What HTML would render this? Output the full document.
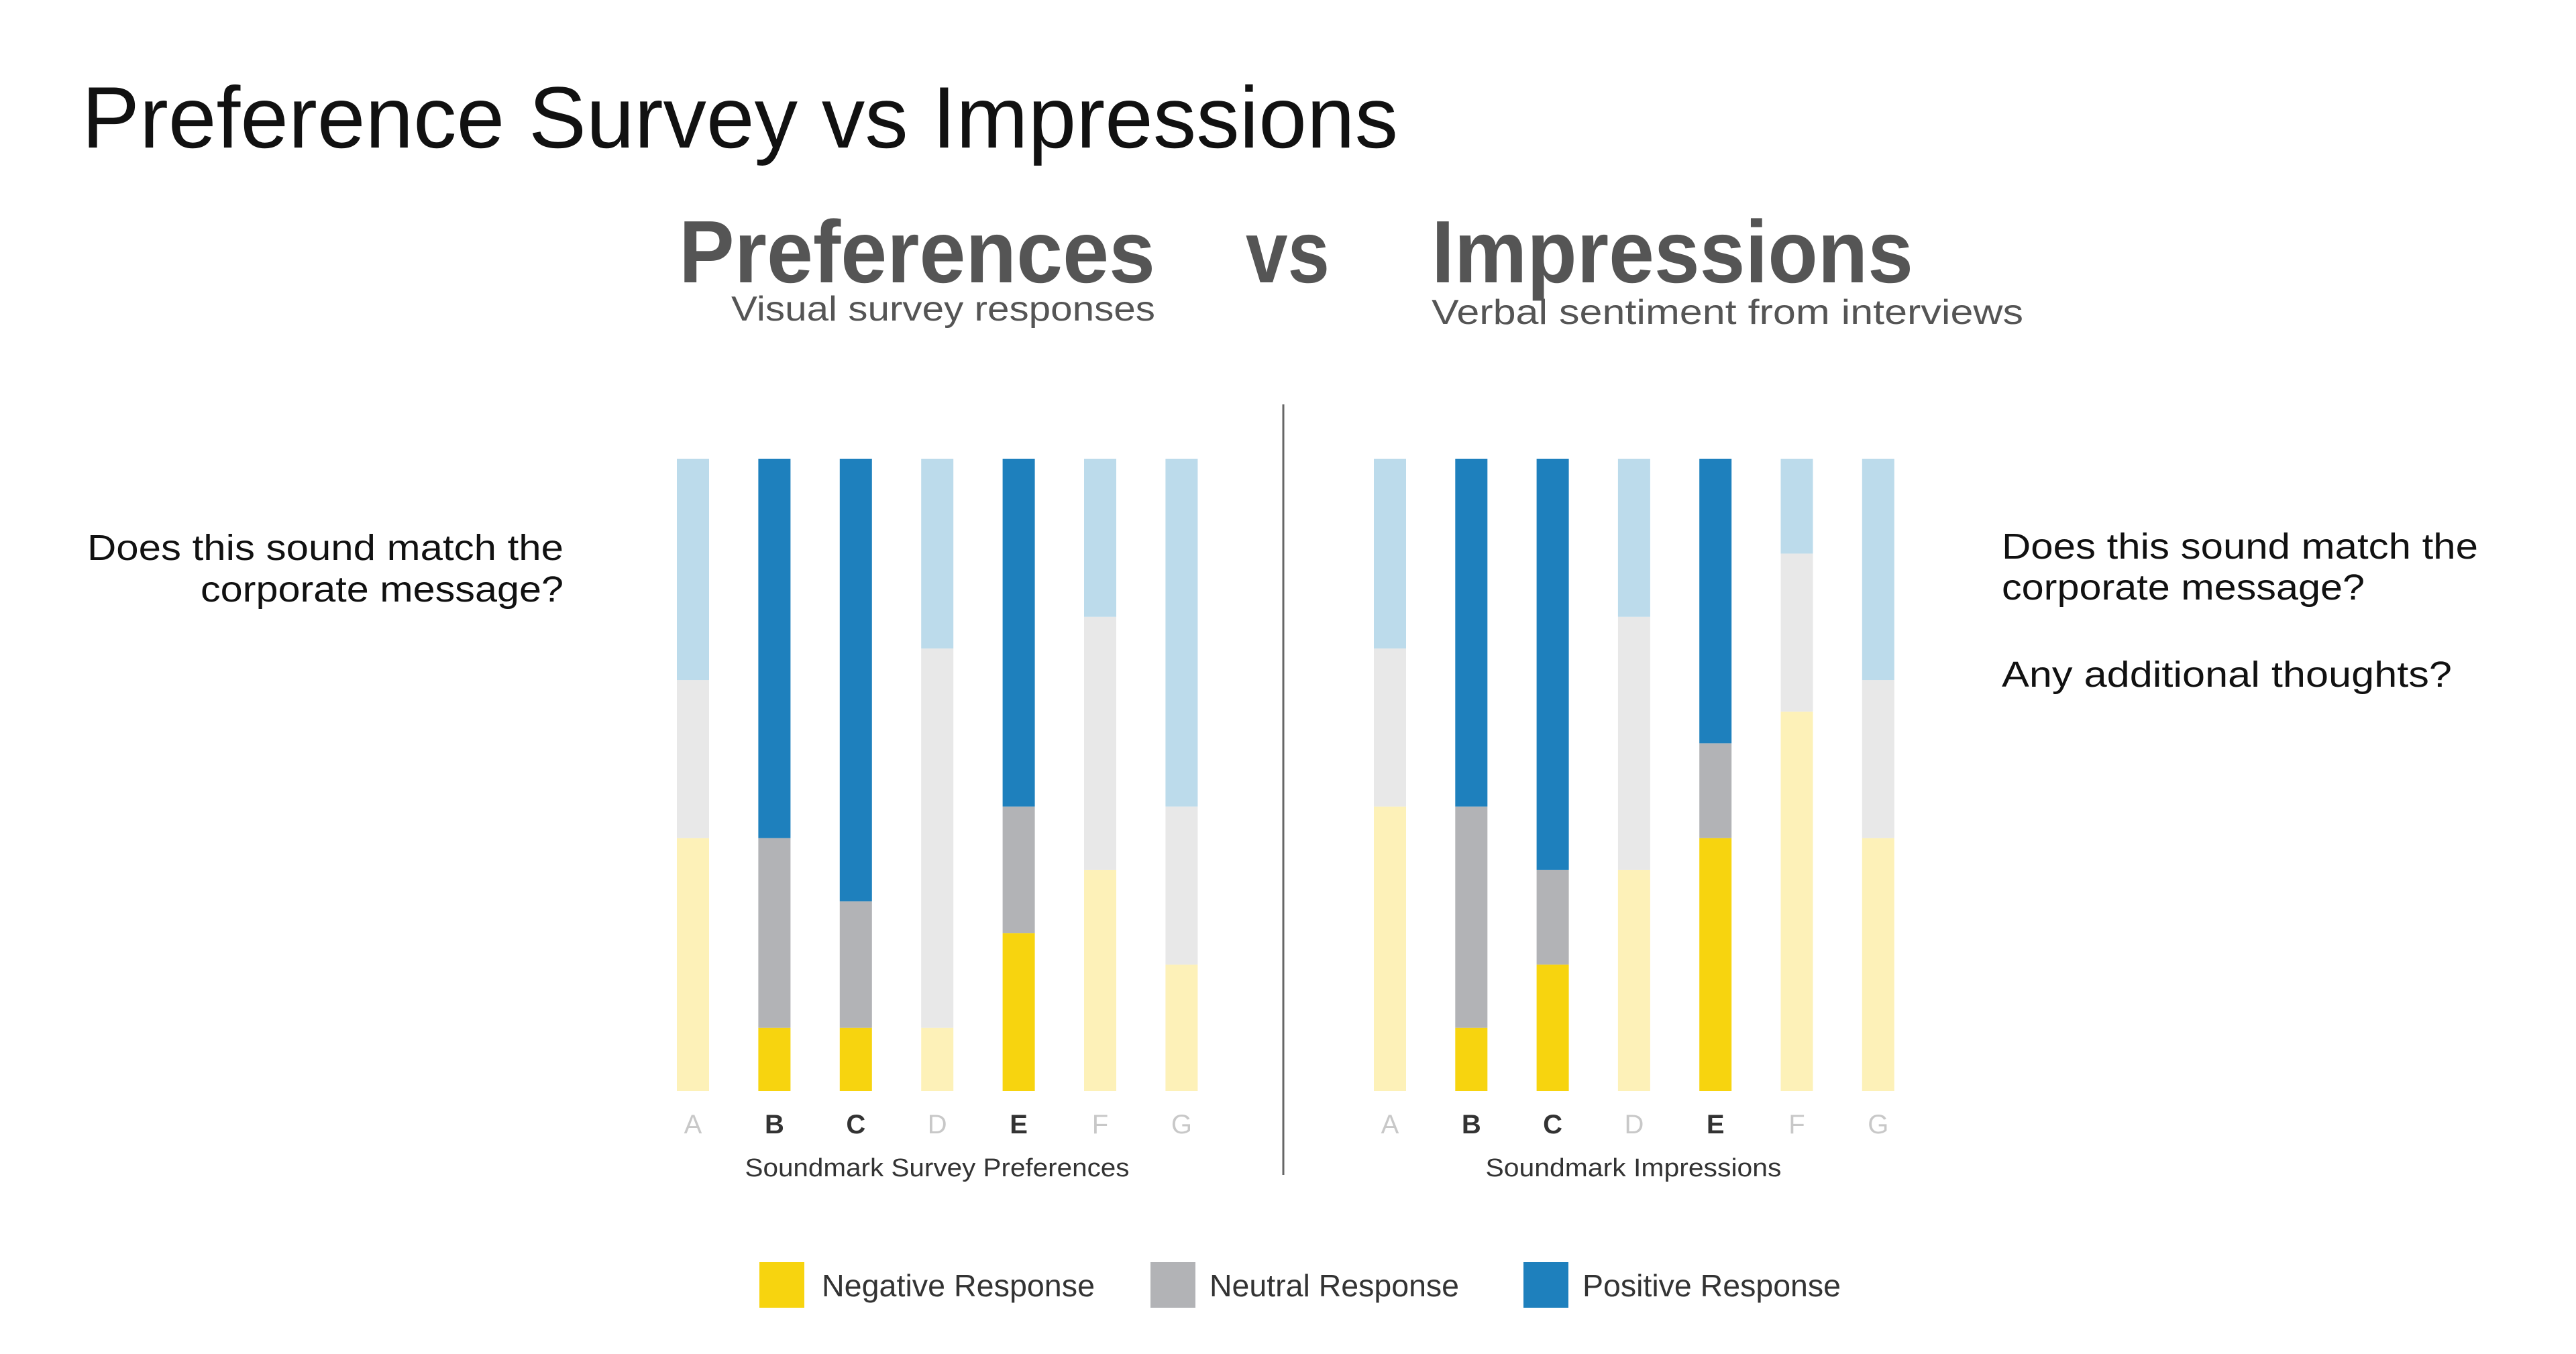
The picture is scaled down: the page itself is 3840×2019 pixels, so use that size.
<!DOCTYPE html>
<html><head><meta charset="utf-8"><style>
html,body{margin:0;padding:0;background:#fff;}
svg{display:block;font-family:"Liberation Sans",sans-serif;}
</style></head><body>
<svg id="chart" width="3840" height="2019" viewBox="0 0 3840 2019" xmlns="http://www.w3.org/2000/svg">
<text x="122" y="220" font-size="130" fill="#111" textLength="1962" lengthAdjust="spacingAndGlyphs">Preference Survey vs Impressions</text>
<text x="1012" y="421" font-size="132" font-weight="bold" fill="#555" textLength="710" lengthAdjust="spacingAndGlyphs">Preferences</text>
<text x="1857" y="421" font-size="132" font-weight="bold" fill="#555" textLength="125" lengthAdjust="spacingAndGlyphs">vs</text>
<text x="2134" y="421" font-size="132" font-weight="bold" fill="#555" textLength="718" lengthAdjust="spacingAndGlyphs">Impressions</text>
<text x="1090" y="478" font-size="52" fill="#555" textLength="632" lengthAdjust="spacingAndGlyphs">Visual survey responses</text>
<text x="2134" y="483" font-size="52" fill="#555" textLength="882" lengthAdjust="spacingAndGlyphs">Verbal sentiment from interviews</text>
<text x="840" y="835" font-size="54" fill="#111" text-anchor="end" textLength="710" lengthAdjust="spacingAndGlyphs">Does this sound match the</text>
<text x="840" y="897" font-size="54" fill="#111" text-anchor="end" textLength="541" lengthAdjust="spacingAndGlyphs">corporate message?</text>
<text x="2984" y="833" font-size="54" fill="#111" textLength="710" lengthAdjust="spacingAndGlyphs">Does this sound match the</text>
<text x="2984" y="894" font-size="54" fill="#111" textLength="541" lengthAdjust="spacingAndGlyphs">corporate message?</text>
<text x="2984" y="1024" font-size="54" fill="#111" textLength="671" lengthAdjust="spacingAndGlyphs">Any additional thoughts?</text>
<line x1="1913" y1="603" x2="1913" y2="1752" stroke="#666" stroke-width="3"/>
<text x="1397" y="1754" font-size="38" fill="#333" text-anchor="middle" textLength="573" lengthAdjust="spacingAndGlyphs">Soundmark Survey Preferences</text>
<text x="2435" y="1754" font-size="38" fill="#333" text-anchor="middle" textLength="441" lengthAdjust="spacingAndGlyphs">Soundmark Impressions</text>
<g>
<rect x="1132" y="1882" width="67" height="68" fill="#f7d40f"/>
<text x="1225" y="1933" font-size="46" fill="#333" textLength="407" lengthAdjust="spacingAndGlyphs">Negative Response</text>
<rect x="1715" y="1882" width="67" height="68" fill="#b2b3b6"/>
<text x="1803" y="1933" font-size="46" fill="#333" textLength="372" lengthAdjust="spacingAndGlyphs">Neutral Response</text>
<rect x="2271" y="1882" width="67" height="68" fill="#1e80bd"/>
<text x="2359" y="1933" font-size="46" fill="#333" textLength="385" lengthAdjust="spacingAndGlyphs">Positive Response</text>
</g>
<g id="bars"></g>
</svg>
<script>
const categories = ["A","B","C","D","E","F","G"];
const highlighted = [false,true,true,false,true,false,false];
const prefNegative = [0.40,0.10,0.10,0.10,0.25,0.35,0.20];
const prefNeutral  = [0.25,0.30,0.20,0.60,0.20,0.40,0.25];
const prefPositive = [0.35,0.60,0.70,0.30,0.55,0.25,0.55];
const impNegative = [0.45,0.10,0.20,0.35,0.40,0.60,0.40];
const impNeutral  = [0.25,0.35,0.15,0.40,0.15,0.25,0.25];
const impPositive = [0.30,0.55,0.65,0.25,0.45,0.15,0.35];

const NS = "http://www.w3.org/2000/svg";
const g = document.getElementById("bars");
const yTop = 684, yBot = 1627;
function y(v){ return yBot - v*(yBot-yTop); }
const colors = {
  neg:["#fdf1b8","#f7d40f"], neu:["#e8e8e8","#b2b3b6"], pos:["#bcdbeb","#1e80bd"]
};
function drawPanel(name, x0, pitch, neg, neu, pos){
  const w = 48;
  categories.forEach((c,i)=>{
    const x = x0 + i*pitch;
    const h = highlighted[i] ? 1 : 0;
    const segs = [["neg",0,neg[i]],["neu",neg[i],neg[i]+neu[i]],["pos",neg[i]+neu[i],neg[i]+neu[i]+pos[i]]];
    segs.forEach(s=>{
      const r = document.createElementNS(NS,"rect");
      r.setAttribute("x",x); r.setAttribute("width",w);
      r.setAttribute("y",y(s[2])); r.setAttribute("height",y(s[1])-y(s[2]));
      r.setAttribute("fill",colors[s[0]][h]);
      
      
      g.appendChild(r);
    });
    const t = document.createElementNS(NS,"text");
    t.setAttribute("x",x+w/2); t.setAttribute("y",1690);
    t.setAttribute("text-anchor","middle"); t.setAttribute("font-size","40");
    t.setAttribute("fill", h ? "#333" : "#c8c8c8");
    if(h) t.setAttribute("font-weight","bold");
    t.textContent = c;
    
    
    g.appendChild(t);
  });
}
drawPanel("preferences", 1009, 121.4, prefNegative, prefNeutral, prefPositive);
drawPanel("impressions", 2048, 121.3, impNegative, impNeutral, impPositive);
</script>
</body></html>
